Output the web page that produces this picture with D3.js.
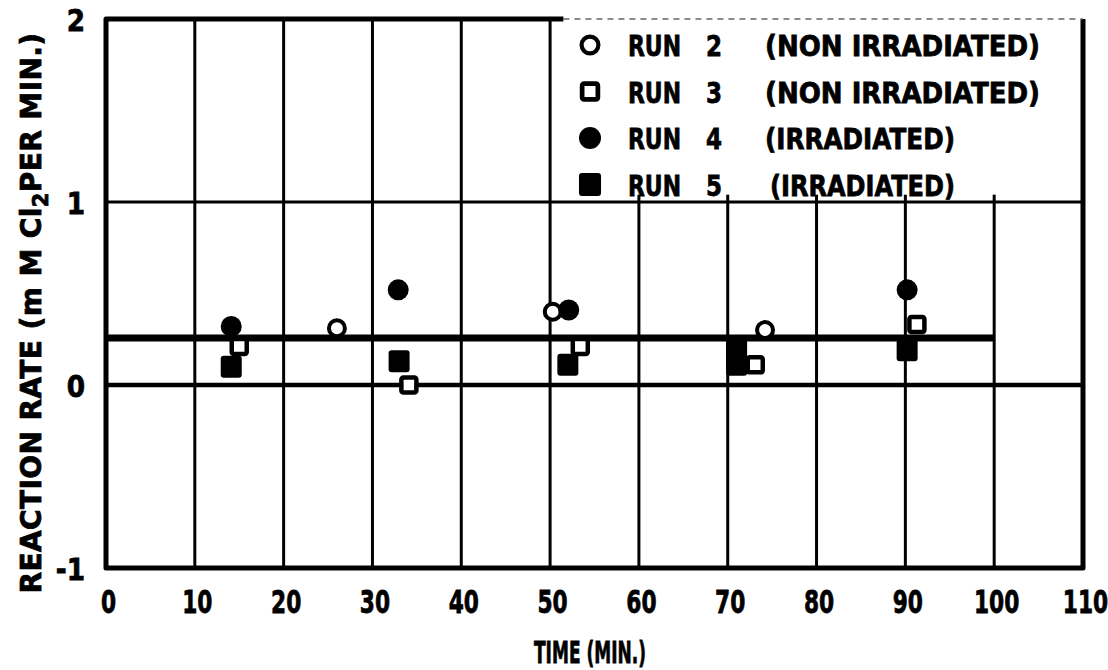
<!DOCTYPE html>
<html>
<head>
<meta charset="utf-8">
<script src="https://cdn.jsdelivr.net/npm/d3@7"></script>
<style>
  body { margin: 0; background: #fff; }
  text { font-family: "DejaVu Sans", "Liberation Sans", sans-serif; font-weight: bold; fill: #000; stroke: #000; stroke-width: 0.8px; }
</style>
</head>
<body>
<svg id="chart" width="1108" height="670"></svg>
<script>
// axis ticks
var xTicks = [0, 10, 20, 30, 40, 50, 60, 70, 80, 90, 100, 110];
var yTicks = [-1, 0, 1, 2];

// [time (min), reaction rate]
var run2 = [[26, 0.31], [50.3, 0.40], [74.2, 0.30]];
var run3 = [[15, 0.21], [34.1, 0.0], [53.4, 0.21], [73.1, 0.11], [91.3, 0.33]];
var run4 = [[14.1, 0.32], [32.9, 0.52], [52.1, 0.41], [90.2, 0.52]];
var run5 = [[14.1, 0.10], [33, 0.13], [52, 0.11], [71, 0.20], [71, 0.11], [90.2, 0.19]];

// mean rate line
var fitLine = [[0, 0.257], [100, 0.257]];

var legendNums = ["2", "3", "4", "5"];
var legendNotes = ["(NON IRRADIATED)", "(NON IRRADIATED)", "(IRRADIATED)", "(IRRADIATED)"];
var legendShapes = ["openCircle", "openSquare", "filledCircle", "filledSquare"];

(function () {
  var svg = d3.select("#chart");
  var pl = 106, pr = 1083, pt = 19, pb = 568;

  var x = d3.scaleLinear().domain([0, 110]).range([pl, pr]);
  var y = d3.scaleLinear().domain([-1, 2]).range([pb, pt]);

  // grid
  var grid = svg.append("g").attr("stroke", "#000");
  grid.selectAll(".vg").data(xTicks.slice(1, -1)).enter().append("line")
    .attr("x1", d => x(d)).attr("x2", d => x(d))
    .attr("y1", pt).attr("y2", pb)
    .attr("stroke-width", 3);
  grid.selectAll(".hg").data(yTicks.slice(1, -1)).enter().append("line")
    .attr("x1", pl).attr("x2", pr)
    .attr("y1", d => y(d)).attr("y2", d => y(d))
    .attr("stroke-width", d => d === 0 ? 4.5 : 3);

  // legend background hides grid behind it
  svg.append("rect")
    .attr("x", x(51.5)).attr("y", pt - 2)
    .attr("width", pr - x(51.5) - 2).attr("height", y(1.04) - pt + 2)
    .attr("fill", "#fff");

  // frame
  svg.append("path")
    .attr("d", "M" + x(51.5) + "," + pt + "H" + pl + "V" + pb + "H" + pr + "V" + pt)
    .attr("fill", "none").attr("stroke", "#000").attr("stroke-width", 5)
    .attr("stroke-linejoin", "round");
  svg.append("line")
    .attr("x1", x(51.5)).attr("x2", pr).attr("y1", pt).attr("y2", pt)
    .attr("stroke", "#666").attr("stroke-width", 1.5).attr("stroke-dasharray", "6,5");

  // fit line
  svg.append("path")
    .attr("d", d3.line().x(d => x(d[0])).y(d => y(d[1]))(fitLine))
    .attr("stroke", "#000").attr("stroke-width", 7).attr("fill", "none");

  function drawMarker(g, shape, cx, cy, s) {
    s = s || 1;
    if (shape === "openCircle") {
      g.append("circle").attr("cx", cx).attr("cy", cy).attr("r", 8 * s)
        .attr("fill", "#fff").attr("stroke", "#000").attr("stroke-width", 4 * s);
    } else if (shape === "filledCircle") {
      g.append("circle").attr("cx", cx).attr("cy", cy).attr("r", 10.5 * s).attr("fill", "#000");
    } else if (shape === "openSquare") {
      g.append("rect").attr("x", cx - 7.5 * s).attr("y", cy - 7.5 * s)
        .attr("width", 15 * s).attr("height", 15 * s).attr("rx", 2)
        .attr("fill", "#fff").attr("stroke", "#000").attr("stroke-width", 4.5 * s);
    } else {
      g.append("rect").attr("x", cx - 10.5 * s).attr("y", cy - 11 * s)
        .attr("width", 21 * s).attr("height", 22 * s).attr("rx", 3).attr("fill", "#000");
    }
  }

  var marks = svg.append("g");
  run5.forEach(d => drawMarker(marks, "filledSquare", x(d[0]), y(d[1])));
  run3.forEach(d => drawMarker(marks, "openSquare", x(d[0]), y(d[1])));
  run2.forEach(d => drawMarker(marks, "openCircle", x(d[0]), y(d[1])));
  run4.forEach(d => drawMarker(marks, "filledCircle", x(d[0]), y(d[1])));

  // tick labels
  var xAxis = svg.append("g")
    .attr("transform", "translate(2," + (pb + 45) + ")")
    .call(d3.axisBottom(x).tickValues(xTicks).tickSize(0).tickPadding(0));
  xAxis.select(".domain").remove();
  xAxis.selectAll("text").attr("dy", 0).attr("font-family", null)
    .attr("transform", "scale(0.68,1)")
    .style("font-size", "32px");

  var yAxis = svg.append("g")
    .attr("transform", "translate(" + (pl - 21) + ",0)")
    .call(d3.axisLeft(y).tickValues(yTicks).tickSize(0).tickPadding(0).tickFormat(d => String(d)));
  yAxis.select(".domain").remove();
  yAxis.selectAll("text").attr("dy", "0.38em").attr("font-family", null)
    .attr("transform", "scale(0.85,1)").style("font-size", "31px");

  // titles
  svg.append("text")
    .attr("x", 590).attr("y", 663)
    .attr("text-anchor", "middle")
    .attr("textLength", 112).attr("lengthAdjust", "spacingAndGlyphs")
    .style("font-size", "30px")
    .text("TIME (MIN.)");

  var yt = svg.append("text")
    .attr("transform", "translate(41,313) rotate(-90)")
    .attr("text-anchor", "middle")
    .style("font-size", "28px").style("letter-spacing", "0.4px");
  yt.append("tspan").text("REACTION RATE (m M Cl");
  yt.append("tspan").attr("dy", 7).style("font-size", "21px").text("2");
  yt.append("tspan").attr("dy", -7).text("PER MIN.)");

  // legend
  var legend = svg.append("g");
  legendNums.forEach(function (n, i) {
    var cy = 45 + i * 46.5;
    drawMarker(legend, legendShapes[i], 590, cy, 1.05);
    legend.append("text").attr("x", 628).attr("y", cy + 11).style("font-size", "29px")
      .attr("textLength", 53).attr("lengthAdjust", "spacingAndGlyphs").text("RUN");
    legend.append("text").attr("x", 706).attr("y", cy + 11).style("font-size", "29px")
      .attr("textLength", 16).attr("lengthAdjust", "spacingAndGlyphs").text(n);
    legend.append("text").attr("x", i === 3 ? 770 : 765).attr("y", cy + 11).style("font-size", "29px")
      .attr("textLength", i < 2 ? 275 : (i === 2 ? 190 : 185)).attr("lengthAdjust", "spacingAndGlyphs")
      .text(legendNotes[i]);
  });
})();
</script>
</body>
</html>
